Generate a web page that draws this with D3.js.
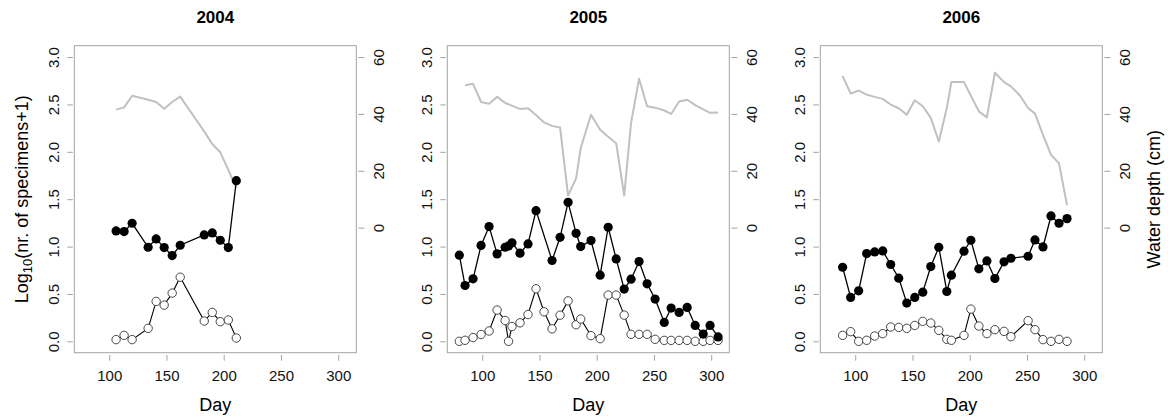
<!DOCTYPE html>
<html>
<head>
<meta charset="utf-8">
<script src="https://cdn.jsdelivr.net/npm/d3@7"></script>
<style>
  html, body { margin: 0; padding: 0; background: #fff; }
  svg { display: block; font-family: "Liberation Sans", Arial, Helvetica, sans-serif; }
</style>
</head>
<body>
<script>
// ---- Data -----------------------------------------------------------------
const years = ["2004", "2005", "2006"];

// 2004 samples
const days2004   = [106, 113, 120, 134, 141, 148, 155, 162, 183, 190, 197, 204, 211];
const filled2004 = [1.165, 1.158, 1.246, 0.993, 1.081, 0.989, 0.905, 1.014, 1.123, 1.144, 1.067, 0.989, 1.695];
const open2004   = [0.018, 0.063, 0.018, 0.137, 0.421, 0.382, 0.509, 0.677, 0.214, 0.305, 0.207, 0.225, 0.035];
const waterDays2004 = [106, 113, 120, 134, 141, 148, 155, 162, 183, 190, 197, 204, 211];
const water2004     = [41.5, 42.3, 46.4, 45.0, 44.2, 41.8, 44.2, 46.1, 33.8, 29.4, 26.5, 20.3, 14.0];

// 2005 samples (no filled value on day 154)
const days2005   = [80, 85, 92, 99, 106, 113, 120, 123, 126, 133, 140, 147, 154, 161, 168, 175, 182, 186, 195, 203,
                    210, 217, 224, 230, 237, 244, 251, 259, 265, 272, 279, 286, 293, 299, 306];
const filled2005 = [0.909, 0.589, 0.660, 1.012, 1.211, 0.923, 0.993, 1.007, 1.040, 0.930, 1.028, 1.379, null, 0.853,
                    1.098, 1.467, 1.140, 1.000, 1.063, 0.698, 1.204, 0.870, 0.551, 0.656, 0.842, 0.607, 0.446, 0.200,
                    0.351, 0.305, 0.358, 0.168, 0.077, 0.168, 0.046];
const open2005   = [0.000, 0.011, 0.040, 0.072, 0.109, 0.330, 0.220, 0.000, 0.156, 0.195, 0.283, 0.555, 0.312, 0.132,
                    0.276, 0.427, 0.175, 0.235, 0.060, 0.028, 0.488, 0.488, 0.277, 0.074, 0.074, 0.074, 0.021, 0.010,
                    0.010, 0.010, 0.010, 0.000, 0.000, 0.010, 0.010];
const waterDays2005 = [85, 92, 99, 106, 113, 120, 126, 133, 140, 147, 154, 161, 168, 175, 182, 186, 195, 203, 210, 217,
                       224, 230, 237, 244, 251, 259, 265, 272, 279, 286, 293, 299, 306];
const water2005     = [50.1, 50.6, 44.2, 43.6, 46.0, 43.9, 42.9, 41.7, 42.0, 39.6, 37.0, 35.8, 35.2, 11.3, 17.3, 27.9,
                       39.7, 34.4, 32.0, 29.7, 11.3, 36.8, 52.4, 42.7, 42.2, 41.2, 40.0, 44.4, 45.0, 43.1, 41.6, 40.4, 40.5];

// 2006 samples
const days2006   = [89, 96, 103, 110, 117, 124, 131, 138, 145, 152, 159, 166, 173, 180, 184, 195, 201, 208, 215, 222,
                    230, 236, 251, 257, 264, 271, 278, 285];
const filled2006 = [0.782, 0.463, 0.533, 0.926, 0.944, 0.954, 0.811, 0.667, 0.404, 0.463, 0.519, 0.789, 0.993, 0.526,
                    0.698, 0.951, 1.067, 0.765, 0.849, 0.663, 0.839, 0.877, 0.898, 1.070, 0.996, 1.323, 1.246, 1.295];
const open2006   = [0.063, 0.102, 0.000, 0.011, 0.056, 0.081, 0.151, 0.147, 0.137, 0.168, 0.211, 0.193, 0.116, 0.021,
                    0.011, 0.063, 0.340, 0.161, 0.081, 0.123, 0.105, 0.049, 0.218, 0.123, 0.018, 0.000, 0.021, 0.000];
const waterDays2006 = [89, 96, 103, 110, 117, 124, 131, 138, 145, 152, 159, 166, 173, 180, 184, 195, 201, 208, 215, 222,
                       230, 236, 244, 251, 257, 264, 271, 278, 285];
const water2006     = [53.3, 47.2, 48.2, 46.8, 46.0, 45.3, 43.3, 42.0, 39.7, 44.8, 42.7, 38.6, 30.3, 42.1, 51.2, 51.2,
                       46.4, 40.9, 38.8, 54.5, 51.2, 49.7, 46.4, 42.1, 40.1, 32.6, 25.6, 22.6, 7.9];

// Axis ticks
const dayTicks   = [100, 150, 200, 250, 300];
const logTicks   = [0, 0.5, 1, 1.5, 2, 2.5, 3];
const depthTicks = [0, 20, 40, 60];

const panels = [
  { title: years[0], days: days2004, filled: filled2004, open: open2004, wDays: waterDays2004, water: water2004 },
  { title: years[1], days: days2005, filled: filled2005, open: open2005, wDays: waterDays2005, water: water2005 },
  { title: years[2], days: days2006, filled: filled2006, open: open2006, wDays: waterDays2006, water: water2006 }
];

// ---- Layout ---------------------------------------------------------------
const W = 1168, H = 418;
const plotW = 282, plotTop = 45.7, plotBottom = 352.7;
const firstLeft = 74.3, panelStep = 373;
const axisGrey = "#a3a3a3";
const tickFont = 15;

const svg = d3.select("body").append("svg").attr("width", W).attr("height", H);

function styleAxis(g) {
  g.select(".domain").remove();
  g.selectAll(".tick line").attr("stroke", axisGrey).attr("stroke-width", 1);
  g.attr("font-size", tickFont).attr("font-family", null);
  g.selectAll(".tick text").attr("fill", "#111");
}

panels.forEach((p, i) => {
  const L = firstLeft + i * panelStep, R = L + plotW;

  const x  = d3.scaleLinear().domain([69.5, 315.8]).range([L, R]);
  const y  = d3.scaleLinear().domain([-0.12, 3.12]).range([plotBottom, plotTop]);
  const y2 = d3.scaleLinear().domain([-44, 64]).range([plotBottom, plotTop]);

  const g = svg.append("g");

  // Frame
  g.append("rect")
    .attr("x", L).attr("y", plotTop)
    .attr("width", plotW).attr("height", plotBottom - plotTop)
    .attr("fill", "none").attr("stroke", axisGrey).attr("stroke-width", 1);

  // Bottom axis (day of year)
  g.append("g")
    .attr("transform", `translate(0,${plotBottom + 2.3})`)
    .call(d3.axisBottom(x).tickValues(dayTicks).tickSize(5.7).tickPadding(10).tickFormat(d3.format("d")))
    .call(styleAxis);

  // Left axis (log abundance), labels rotated
  g.append("g")
    .attr("transform", `translate(${L - 1.5},0)`)
    .call(d3.axisLeft(y).tickValues(logTicks).tickSize(5.5).tickFormat(d3.format(".1f")))
    .call(styleAxis)
    .call(a => a.selectAll(".tick text")
      .attr("x", null).attr("dy", null)
      .attr("text-anchor", "middle")
      .attr("transform", "translate(-14.1,0) rotate(-90)"));

  // Right axis (water depth), labels rotated
  g.append("g")
    .attr("transform", `translate(${R + 2},0)`)
    .call(d3.axisRight(y2).tickValues(depthTicks).tickSize(6).tickFormat(d3.format("d")))
    .call(styleAxis)
    .call(a => a.selectAll(".tick text")
      .attr("x", null).attr("dy", null)
      .attr("text-anchor", "middle")
      .attr("transform", "translate(26,0) rotate(-90)"));

  // Water depth line
  const wPts = p.wDays.map((d, k) => [d, p.water[k]]);
  g.append("path")
    .datum(wPts)
    .attr("fill", "none").attr("stroke", "#c0c0c0").attr("stroke-width", 2)
    .attr("stroke-linejoin", "round")
    .attr("d", d3.line().x(d => x(d[0])).y(d => y2(d[1])));

  const line = d3.line().x(d => x(d[0])).y(d => y(d[1]));

  // Open-symbol series
  const oPts = p.days.map((d, k) => [d, p.open[k]]).filter(d => d[1] != null);
  g.append("path").datum(oPts)
    .attr("fill", "none").attr("stroke", "#000").attr("stroke-width", 1.1)
    .attr("d", line);
  g.selectAll(".open").data(oPts).join("circle")
    .attr("class", "open")
    .attr("cx", d => x(d[0])).attr("cy", d => y(d[1])).attr("r", 4.2)
    .attr("fill", "#fff").attr("stroke", "#333").attr("stroke-width", 0.9);

  // Filled-symbol series
  const fPts = p.days.map((d, k) => [d, p.filled[k]]).filter(d => d[1] != null);
  g.append("path").datum(fPts)
    .attr("fill", "none").attr("stroke", "#000").attr("stroke-width", 1.3)
    .attr("d", line);
  g.selectAll(".filled").data(fPts).join("circle")
    .attr("class", "filled")
    .attr("cx", d => x(d[0])).attr("cy", d => y(d[1])).attr("r", 4.6)
    .attr("fill", "#000");

  // Panel title
  g.append("text")
    .attr("x", L + plotW / 2).attr("y", 23)
    .attr("text-anchor", "middle").attr("font-weight", "bold").attr("font-size", 17)
    .text(p.title);

  // x-axis title
  g.append("text")
    .attr("x", L + plotW / 2).attr("y", 411)
    .attr("text-anchor", "middle").attr("font-size", 18)
    .text("Day");

  const midY = (plotTop + plotBottom) / 2;

  if (i === 0) {
    const t = g.append("text")
      .attr("transform", `translate(28,${midY}) rotate(-90)`)
      .attr("text-anchor", "middle").attr("font-size", 18);
    t.append("tspan").text("Log");
    t.append("tspan").attr("font-size", 13).attr("dy", 4).text("10");
    t.append("tspan").attr("dy", -4).text("(nr. of specimens+1)");
  }
  if (i === panels.length - 1) {
    g.append("text")
      .attr("transform", `translate(1159.5,${midY}) rotate(-90)`)
      .attr("text-anchor", "middle").attr("font-size", 18)
      .text("Water depth (cm)");
  }
});
</script>
</body>
</html>
